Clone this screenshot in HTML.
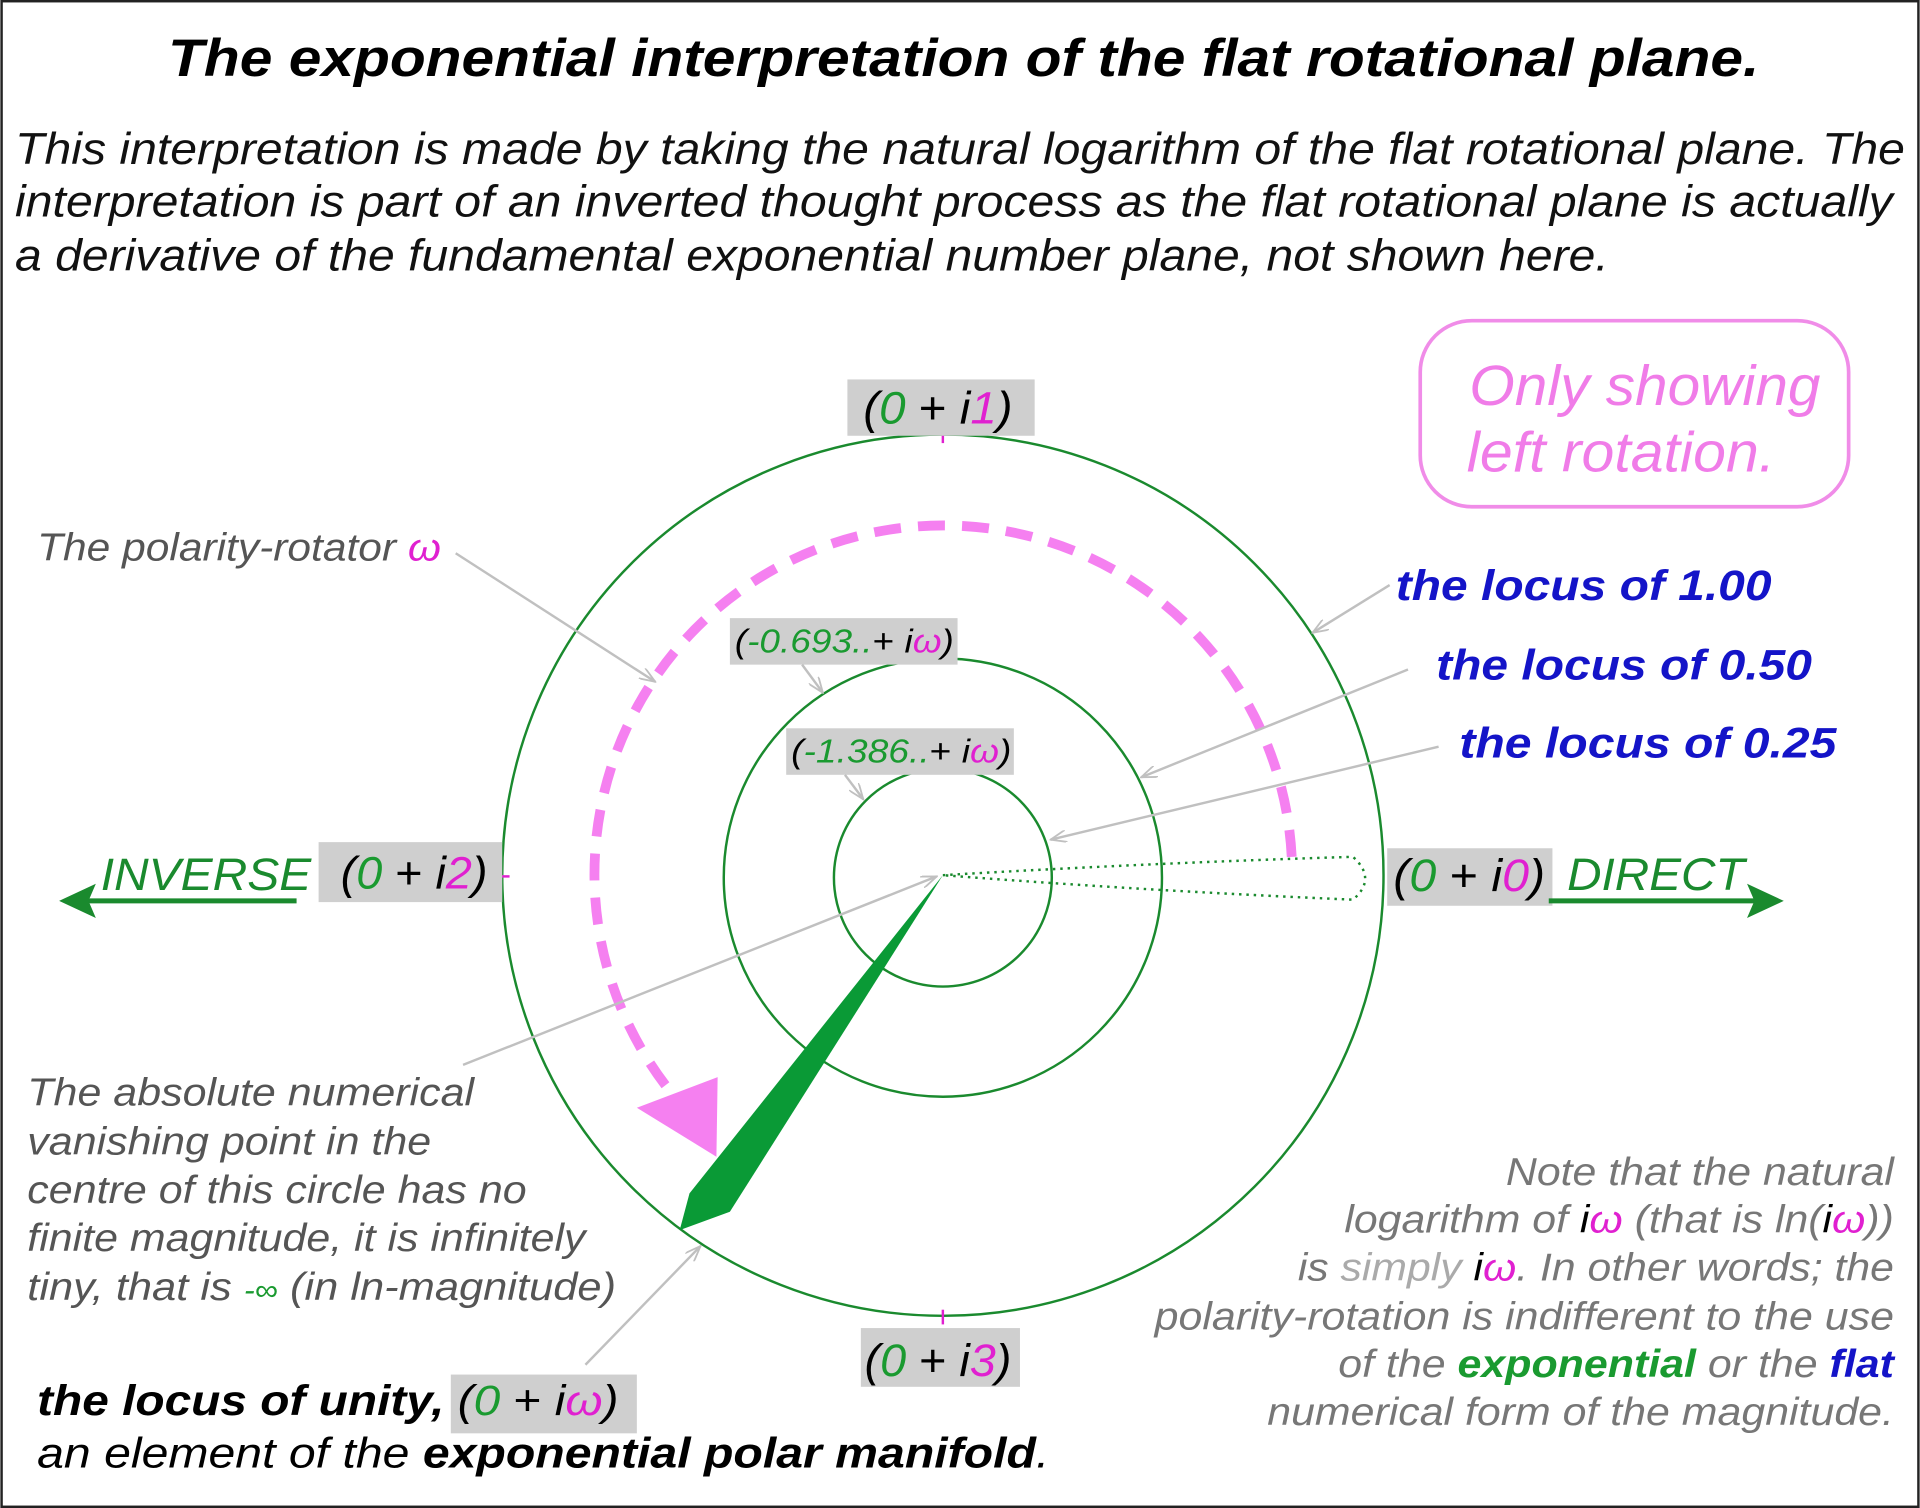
<!DOCTYPE html>
<html><head><meta charset="utf-8"><style>
html,body{margin:0;padding:0;background:#fff}
svg{display:block}
text{font-family:"Liberation Sans",sans-serif;font-style:italic}
</style></head><body>
<svg width="1920" height="1508" viewBox="0 0 1568 1232" xmlns="http://www.w3.org/2000/svg">
<defs>
<marker id="ah" markerWidth="14" markerHeight="10" refX="13" refY="5" orient="auto" markerUnits="userSpaceOnUse">
<path d="M0,0 L13,5 L0,10" fill="none" stroke="#c0c0c0" stroke-width="1.5"/>
</marker>
</defs>
<rect x="1" y="1" width="1566" height="1230" fill="#fff" stroke="#222" stroke-width="2"/>
<text x="137" y="62" font-size="43" font-weight="bold" textLength="1300" lengthAdjust="spacingAndGlyphs">The exponential interpretation of the flat rotational plane.</text>
<g font-size="36" fill="#111">
<text x="12" y="134" textLength="1544" lengthAdjust="spacingAndGlyphs">This interpretation is made by taking the natural logarithm of the flat rotational plane. The</text>
<text x="12" y="177" textLength="1534" lengthAdjust="spacingAndGlyphs">interpretation is part of an inverted thought process as the flat rotational plane is actually</text>
<text x="12" y="221" textLength="1302" lengthAdjust="spacingAndGlyphs">a derivative of the fundamental exponential number plane, not shown here.</text>
</g>
<rect x="1160" y="262" width="350" height="152" rx="42" fill="#fff" stroke="#f08ce8" stroke-width="3"/>
<text x="1200" y="331" font-size="46" fill="#f07ce8" textLength="287" lengthAdjust="spacingAndGlyphs">Only showing</text>
<text x="1198" y="385" font-size="46" fill="#f07ce8" textLength="252" lengthAdjust="spacingAndGlyphs">left rotation.</text>
<g fill="none" stroke="#1a8a2e" stroke-width="2">
<circle cx="770" cy="715" r="360"/>
<circle cx="770" cy="717" r="179"/>
<circle cx="770" cy="717" r="89"/>
</g>
<path d="M770 715 Q940 705 1105 700 Q1125 718 1105 735 Q940 728 770 715" fill="none" stroke="#1a8a2e" stroke-width="2" stroke-dasharray="2 4"/>
<path d="M1055 700 A285 285 0 1 0 550 895" fill="none" stroke="#f580f0" stroke-width="8" stroke-dasharray="22 14"/>
<polygon points="520,905 586,880 585,945" fill="#f580f0"/>
<polygon points="770,715 596,990 555,1005 563,975" fill="#0a9a36"/>
<g stroke="#e020d0" stroke-width="2">
<line x1="770" y1="350" x2="770" y2="362"/><line x1="770" y1="1070" x2="770" y2="1082"/>
<line x1="404" y1="716" x2="416" y2="716"/>
</g>
<g fill="#cfcfcf">
<rect x="692" y="310" width="153" height="46"/>
<rect x="260" y="688" width="150" height="49"/>
<rect x="1133" y="693" width="135" height="47"/>
<rect x="703" y="1085" width="130" height="48"/>
<rect x="596" y="505" width="186" height="38"/>
<rect x="642" y="595" width="186" height="38"/>
<rect x="368" y="1123" width="152" height="48"/>
</g>
<g font-size="37">
<text x="705" y="346" textLength="122" lengthAdjust="spacingAndGlyphs">(<tspan fill="#1a9a30">0</tspan><tspan font-style="normal"> + </tspan>i<tspan fill="#e020d0">1</tspan>)</text>
<text x="278" y="726" textLength="120" lengthAdjust="spacingAndGlyphs">(<tspan fill="#1a9a30">0</tspan><tspan font-style="normal"> + </tspan>i<tspan fill="#e020d0">2</tspan>)</text>
<text x="1138" y="728" textLength="124" lengthAdjust="spacingAndGlyphs">(<tspan fill="#1a9a30">0</tspan><tspan font-style="normal"> + </tspan>i<tspan fill="#e020d0">0</tspan>)</text>
<text x="706" y="1124" textLength="120" lengthAdjust="spacingAndGlyphs">(<tspan fill="#1a9a30">0</tspan><tspan font-style="normal"> + </tspan>i<tspan fill="#e020d0">3</tspan>)</text>
</g>
<g font-size="27">
<text x="600" y="533" textLength="179" lengthAdjust="spacingAndGlyphs">(<tspan fill="#1a9a30">-0.693..</tspan><tspan font-style="normal">+ </tspan>i<tspan fill="#e020d0">ω</tspan>)</text>
<text x="646" y="623" textLength="180" lengthAdjust="spacingAndGlyphs">(<tspan fill="#1a9a30">-1.386..</tspan><tspan font-style="normal">+ </tspan>i<tspan fill="#e020d0">ω</tspan>)</text>
</g>
<text x="82" y="727" font-size="37" fill="#1a8a2e" textLength="172" lengthAdjust="spacingAndGlyphs">INVERSE</text>
<text x="1280" y="727" font-size="37" fill="#1a8a2e" textLength="145" lengthAdjust="spacingAndGlyphs">DIRECT</text>
<line x1="242" y1="736" x2="70" y2="736" stroke="#1a8a2e" stroke-width="4"/>
<polygon points="48,736 78,722 72,736 78,750" fill="#1a8a2e"/>
<line x1="1265" y1="736" x2="1435" y2="736" stroke="#1a8a2e" stroke-width="4"/>
<polygon points="1457,736 1427,722 1433,736 1427,750" fill="#1a8a2e"/>
<g font-size="35" font-weight="bold" fill="#1414c8">
<text x="1140" y="490" textLength="307" lengthAdjust="spacingAndGlyphs">the locus of 1.00</text>
<text x="1173" y="555" textLength="307" lengthAdjust="spacingAndGlyphs">the locus of 0.50</text>
<text x="1192" y="619" textLength="308" lengthAdjust="spacingAndGlyphs">the locus of 0.25</text>
</g>
<g stroke="#c0c0c0" stroke-width="2" fill="none" marker-end="url(#ah)">
<line x1="1135" y1="478" x2="1072" y2="517"/>
<line x1="1150" y1="547" x2="932" y2="635"/>
<line x1="1175" y1="610" x2="858" y2="686"/>
<line x1="372" y1="452" x2="535" y2="557"/>
<line x1="655" y1="543" x2="672" y2="566"/>
<line x1="690" y1="633" x2="705" y2="653"/>
<line x1="378" y1="870" x2="765" y2="716"/>
<line x1="478" y1="1115" x2="572" y2="1018"/>
</g>
<text x="30" y="458" font-size="32" fill="#555" textLength="330" lengthAdjust="spacingAndGlyphs">The polarity-rotator <tspan fill="#e020d0">ω</tspan></text>
<g font-size="32" fill="#555">
<text x="22" y="903" textLength="365" lengthAdjust="spacingAndGlyphs">The absolute numerical</text>
<text x="22" y="943" textLength="330" lengthAdjust="spacingAndGlyphs">vanishing point in the</text>
<text x="22" y="983" textLength="408" lengthAdjust="spacingAndGlyphs">centre of this circle has no</text>
<text x="22" y="1022" textLength="456" lengthAdjust="spacingAndGlyphs">finite magnitude, it is infinitely</text>
<text x="22" y="1062" textLength="481" lengthAdjust="spacingAndGlyphs">tiny, that is <tspan fill="#1a9a30" font-size="24">-∞</tspan> (in ln-magnitude)</text>
</g>
<text x="30" y="1156" font-size="35" font-weight="bold" fill="#000" textLength="475" lengthAdjust="spacingAndGlyphs">the locus of unity, <tspan font-weight="normal">(<tspan fill="#1a9a30">0</tspan><tspan font-style="normal"> + </tspan>i<tspan fill="#e020d0">ω</tspan>)</tspan></text>
<text x="30" y="1199" font-size="35" fill="#000" textLength="827" lengthAdjust="spacingAndGlyphs">an element of the <tspan font-weight="bold">exponential polar manifold</tspan>.</text>
<g font-size="32" fill="#777">
<text x="1230" y="968" textLength="317" lengthAdjust="spacingAndGlyphs">Note that the natural</text>
<text x="1098" y="1007" textLength="449" lengthAdjust="spacingAndGlyphs">logarithm of <tspan fill="#000">i</tspan><tspan fill="#e020d0">ω</tspan> (that is ln(<tspan fill="#000">i</tspan><tspan fill="#e020d0">ω</tspan>))</text>
<text x="1060" y="1046" textLength="487" lengthAdjust="spacingAndGlyphs">is <tspan fill="#aaa">simply</tspan> <tspan fill="#000">i</tspan><tspan fill="#e020d0">ω</tspan>. In other words; the</text>
<text x="943" y="1086" textLength="604" lengthAdjust="spacingAndGlyphs">polarity-rotation is indifferent to the use</text>
<text x="1093" y="1125" textLength="454" lengthAdjust="spacingAndGlyphs">of the <tspan fill="#1a9a30" font-weight="bold">exponential</tspan> or the <tspan fill="#1414c8" font-weight="bold">flat</tspan></text>
<text x="1035" y="1164" textLength="512" lengthAdjust="spacingAndGlyphs">numerical form of the magnitude.</text>
</g>
</svg>
</body></html>
